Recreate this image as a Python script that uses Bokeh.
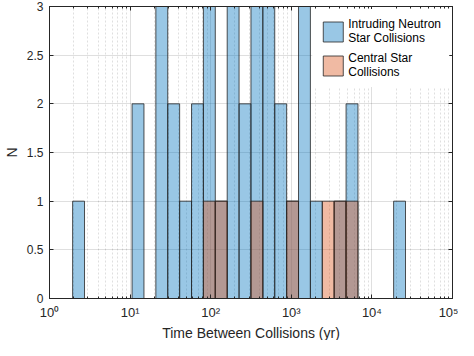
from bokeh.plotting import figure
from bokeh.models import (LogAxis, LinearAxis, FixedTicker, NumeralTickFormatter,
                          Legend, LegendItem, ColumnDataSource, Range1d, Title)
from bokeh.embed import file_html
from bokeh.resources import INLINE

# ---- data ----
bin_edges = [1.936, 2.720, 3.819, 5.364, 7.534, 10.58, 14.86, 20.87, 29.31, 41.17,
             57.81, 81.20, 114.0, 160.2, 224.9, 315.9, 443.6, 623.0, 875.0, 1229,
             1726, 2424, 3404, 4781, 6714, 9430, 13243, 18600, 26122]
intruding_counts = [1, 0, 0, 0, 0, 2, 0, 3, 2, 1, 2, 3, 1, 3, 2, 3, 3, 2, 1, 3,
                    1, 0, 1, 2, 0, 0, 0, 1]
central_counts = [0, 0, 0, 0, 0, 0, 0, 0, 0, 0, 0, 1, 1, 0, 0, 1, 0, 0, 1, 0,
                  0, 1, 1, 1, 0, 0, 0, 0]
series_labels = ["Intruding Neutron\nStar Collisions", "Central Star\nCollisions"]
x_ticks = [1, 10, 100, 1000, 10000, 100000]
x_tick_labels = ["10⁰", "10¹", "10²", "10³", "10⁴", "10⁵"]
y_ticks = [0, 0.5, 1, 1.5, 2, 2.5, 3]
x_title = "Time Between Collisions (yr)"
y_title = "N"

FONT = "Liberation Sans"
AX = "#262626"
BLUE = "#0072BD"
ORANGE = "#D95319"


def hist_source(counts):
    left, right, top = [], [], []
    for i, c in enumerate(counts):
        if c > 0:
            left.append(bin_edges[i])
            right.append(bin_edges[i + 1])
            top.append(c)
    return ColumnDataSource(dict(left=left, right=right, top=top, bottom=[0] * len(top)))


p = figure(width=458, height=340, x_axis_type="log",
           x_range=Range1d(1, 1e5), y_range=Range1d(0, 3),
           output_backend="svg", toolbar_location=None,
           min_border_left=20, min_border_right=6, min_border_top=6, min_border_bottom=0)
p.background_fill_color = "white"
p.border_fill_color = "white"
p.outline_line_color = AX
p.outline_line_width = 1

minor = [m * 10 ** e for e in range(5) for m in range(2, 10)]
xt = FixedTicker(ticks=x_ticks, minor_ticks=minor)
yt = FixedTicker(ticks=y_ticks)

r1 = p.quad(left="left", right="right", top="top", bottom="bottom", source=hist_source(intruding_counts),
            fill_color=BLUE, fill_alpha=0.4, line_color=AX, line_alpha=0.8, line_width=1)
r2 = p.quad(left="left", right="right", top="top", bottom="bottom", source=hist_source(central_counts),
            fill_color=ORANGE, fill_alpha=0.4, line_color=AX, line_alpha=0.8, line_width=1)

bottom_ax = p.below[0]
left_ax = p.left[0]

bottom_ax.ticker = xt
bottom_ax.major_label_overrides = {t: lab for t, lab in zip(x_ticks, x_tick_labels)}
left_ax.ticker = yt
left_ax.formatter = NumeralTickFormatter(format="0.[0]")
left_ax.axis_label = y_title

top_ax = LogAxis(ticker=xt, major_label_overrides={t: "" for t in x_ticks}, major_label_standoff=0)
right_ax = LinearAxis(ticker=yt, major_label_overrides={t: "" for t in y_ticks}, major_label_standoff=0)
p.add_layout(top_ax, "above")
p.add_layout(right_ax, "right")

for ax in [bottom_ax, left_ax, top_ax, right_ax]:
    ax.axis_line_color = AX
    ax.major_tick_line_color = AX
    ax.minor_tick_line_color = AX
    ax.major_tick_in = 4
    ax.major_tick_out = 0
    ax.minor_tick_in = 2
    ax.minor_tick_out = 0
    ax.major_label_text_font = FONT
    ax.major_label_text_color = AX
    ax.axis_label_text_font = FONT
    ax.axis_label_text_font_style = "normal"
    ax.axis_label_text_color = AX

bottom_ax.major_label_text_font_size = "13px"
left_ax.major_label_text_font_size = "12px"
left_ax.axis_label_text_font_size = "14px"
bottom_ax.major_label_standoff = 6
left_ax.major_label_standoff = 6
left_ax.axis_label_standoff = 4

# x-axis title as a bottom title (tighter than an axis label)
p.add_layout(Title(text=x_title, align="center", text_font=FONT, text_font_size="14px",
                   text_font_style="normal", text_color=AX, offset=0, standoff=0), "below")

p.xgrid.grid_line_color = AX
p.xgrid.grid_line_alpha = 0.15
p.xgrid.minor_grid_line_color = AX
p.xgrid.minor_grid_line_alpha = 0.15
p.xgrid.minor_grid_line_dash = "2 2"
p.ygrid.grid_line_color = AX
p.ygrid.grid_line_alpha = 0.15

legend = Legend(items=[LegendItem(label=series_labels[0], renderers=[r1]),
                       LegendItem(label=series_labels[1], renderers=[r2])],
                location="top_right", margin=3, padding=8, spacing=6,
                glyph_width=25, glyph_height=25, label_standoff=3,
                label_text_font=FONT, label_text_font_size="12px", label_text_color="black",
                label_text_line_height=1.05,
                border_line_alpha=0, background_fill_color="white", background_fill_alpha=1)
p.add_layout(legend)

open("out.html", "w").write(file_html(p, INLINE))
